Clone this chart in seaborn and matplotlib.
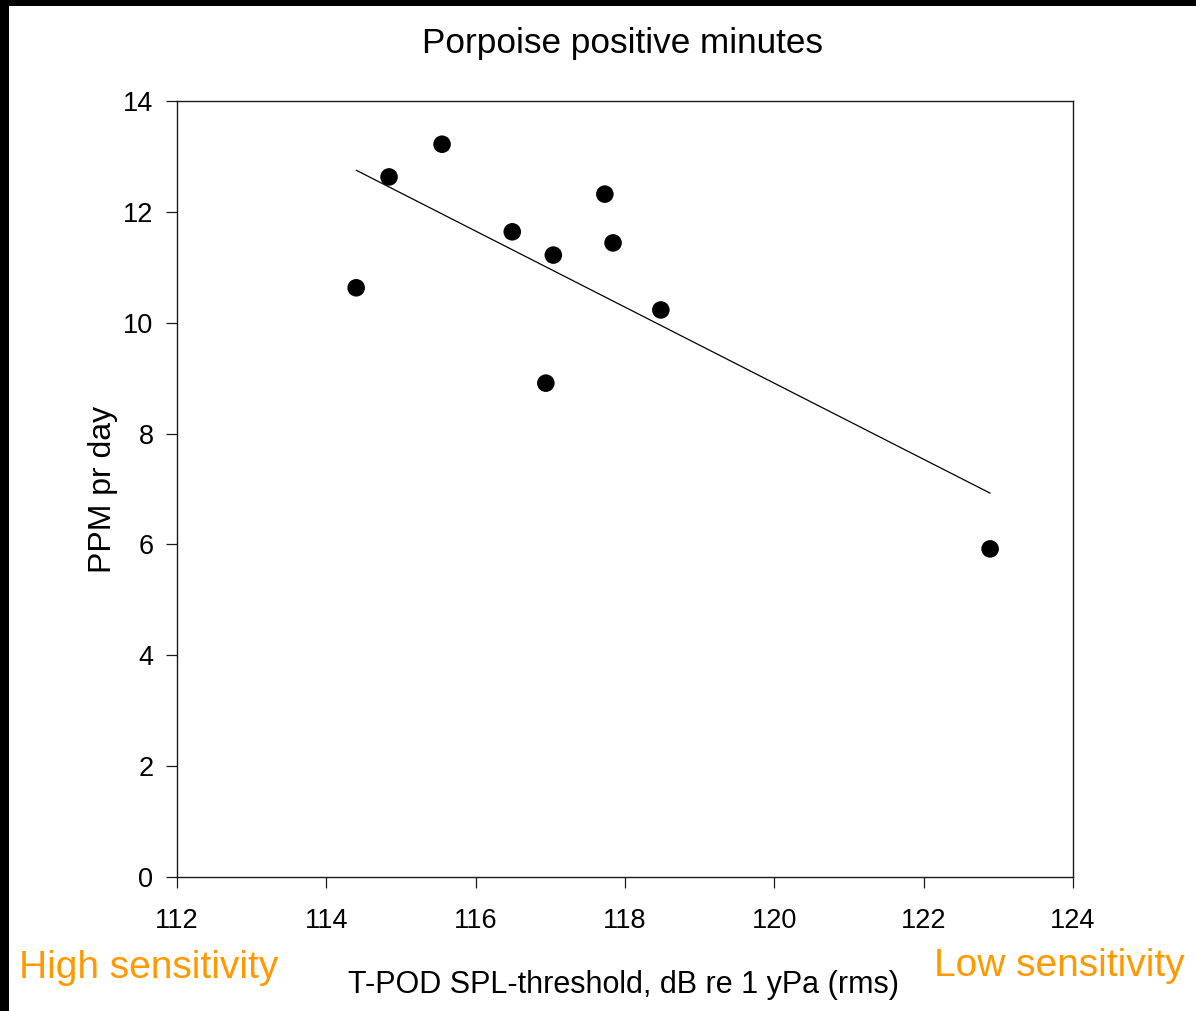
import numpy as np
import pandas as pd
import matplotlib
matplotlib.use("Agg")
import matplotlib.pyplot as plt
from matplotlib.patches import Rectangle
import seaborn as sns

# Data
threshold = [114.40, 114.84, 115.55, 116.49, 117.04, 116.94, 117.73, 117.84, 118.48, 122.89]
ppm_per_day = [10.63, 12.63, 13.22, 11.64, 11.22, 8.91, 12.32, 11.44, 10.23, 5.92]
x_ticks = [112, 114, 116, 118, 120, 122, 124]
y_ticks = [0, 2, 4, 6, 8, 10, 12, 14]

df = pd.DataFrame({"threshold": threshold, "ppm": ppm_per_day})

sns.set_style("white")
plt.rcParams["font.family"] = ["Liberation Sans", "DejaVu Sans"]
plt.rcParams["text.color"] = "black"
plt.rcParams["axes.labelcolor"] = "black"
plt.rcParams["xtick.color"] = "black"
plt.rcParams["ytick.color"] = "black"

W, H = 1196, 1011
fig = plt.figure(figsize=(W / 100, H / 100), dpi=100, facecolor="black")
# white page with a black strip on the left and top
fig.patches.append(Rectangle((9 / W, 0), 1 - 9 / W, 1 - 6 / H,
                             transform=fig.transFigure, facecolor="white",
                             edgecolor="none", zorder=-10))

ax = fig.add_axes([177 / W, 1 - 877 / H, (1073 - 177) / W, (877 - 101) / H])
ax.set_facecolor("white")

sns.regplot(data=df, x="threshold", y="ppm", ax=ax, ci=None, truncate=True,
            scatter_kws={"s": 160, "color": "black", "edgecolors": "none", "alpha": 1},
            line_kws={"color": "black", "linewidth": 0.9})

ax.set_xlim(112, 124)
ax.set_ylim(0, 14)
ax.set_xticks(x_ticks)
ax.set_yticks(y_ticks)

for side in ["left", "bottom", "top", "right"]:
    ax.spines[side].set_visible(True)
    ax.spines[side].set_color("#1a1a1a")
    ax.spines[side].set_linewidth(1.0)

ax.tick_params(axis="both", direction="out", length=8, width=0.9, color="#1a1a1a",
               left=True, bottom=True, top=False, right=False, labelsize=19.5,
               labelcolor="black")
ax.tick_params(axis="x", pad=14)
ax.tick_params(axis="y", pad=9)

ax.set_xlabel("T-POD SPL-threshold, dB re 1 yPa (rms)", fontsize=22, va="center")
ax.xaxis.set_label_coords((624 - 177) / 896, (877 - 985) / 776)
ax.set_ylabel("PPM pr day", fontsize=23, va="center")
ax.yaxis.set_label_coords((103 - 177) / 896, 0.5)

fig.text(623 / W, 1 - 43 / H, "Porpoise positive minutes", fontsize=25.3,
         ha="center", va="center", color="black")
fig.text(149 / W, 1 - 968 / H, "High sensitivity", fontsize=28,
         ha="center", va="center", color="#FF9900")
fig.text(1059 / W, 1 - 966 / H, "Low sensitivity", fontsize=28,
         ha="center", va="center", color="#FF9900")

fig.savefig("out.png", dpi=100, facecolor=fig.get_facecolor())
